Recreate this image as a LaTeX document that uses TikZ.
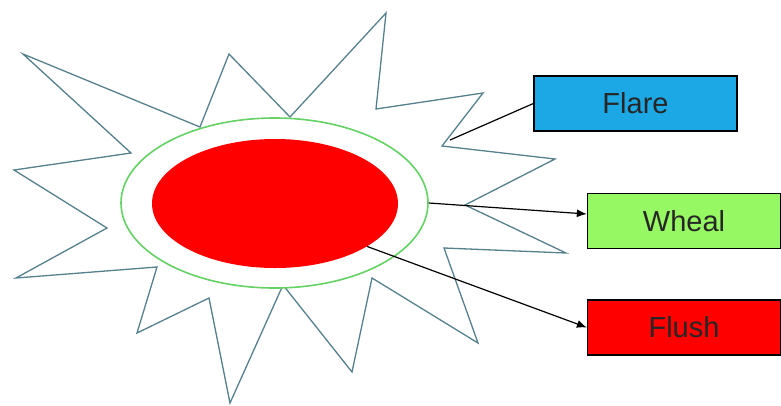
\documentclass[tikz,border=0pt]{standalone}
\usepackage{fontspec}
\setmainfont{Liberation Sans}
\usetikzlibrary{shapes.geometric,arrows.meta,calc}
\definecolor{starc}{RGB}{85,128,140}
\definecolor{ringc}{RGB}{100,210,100}
\definecolor{flarec}{RGB}{28,168,228}
\definecolor{whealc}{RGB}{150,248,98}
\definecolor{flushc}{RGB}{255,0,0}
\begin{document}
\begin{tikzpicture}[x=1pt,y=-1pt,
  labelbox/.style={draw=black,line width=1.3pt,minimum height=55pt,inner sep=0pt,
    font=\fontsize{29}{32}\selectfont,text=black!85},
  conn/.style={draw=black,line width=1.2pt},
  arr/.style={conn,-{Latex[length=10pt,width=8pt]}}]
\useasboundingbox (0,0) rectangle (781,405);
% star outline
\draw[starc,line width=1.3pt,line join=miter]
  (23,54) -- (200,127) -- (229,54) -- (290,117) -- (386,13) -- (376,109)
  -- (483,93) -- (442,146) -- (555,159) -- (465,205) -- (566,253) -- (444,248)
  -- (478,343) -- (372,278) -- (352,372) -- (283,285) -- (230,403) -- (209,298)
  -- (137,333) -- (157,267) -- (16,278) -- (107,228) -- (14,170) -- (131,153) -- cycle;
% ellipses
\node[ellipse,draw=ringc,line width=1.6pt,fill=white,minimum width=307pt,minimum height=170pt,inner sep=0pt]
  (ring) at (274.5,203) {};
\node[ellipse,fill=flushc,minimum width=246pt,minimum height=129pt,inner sep=0pt]
  (spot) at (275,203.5) {};
% boxes
\node[labelbox,fill=flarec,minimum width=203pt] (flare) at (635.5,103.5) {Flare};
\node[labelbox,fill=whealc,minimum width=193pt] (wheal) at (684,221) {Wheal};
\node[labelbox,fill=flushc,minimum width=193pt] (flush) at (684,327.5) {Flush};
% connectors
\coordinate (flarept) at (450,140);
\draw[conn] (flarept) -- (flare.west);
\draw[arr] (ring.east) -- ($(wheal.west)+(0,-7)$);
\draw[arr] (spot.-25) -- (flush.west);
\end{tikzpicture}
\end{document}
